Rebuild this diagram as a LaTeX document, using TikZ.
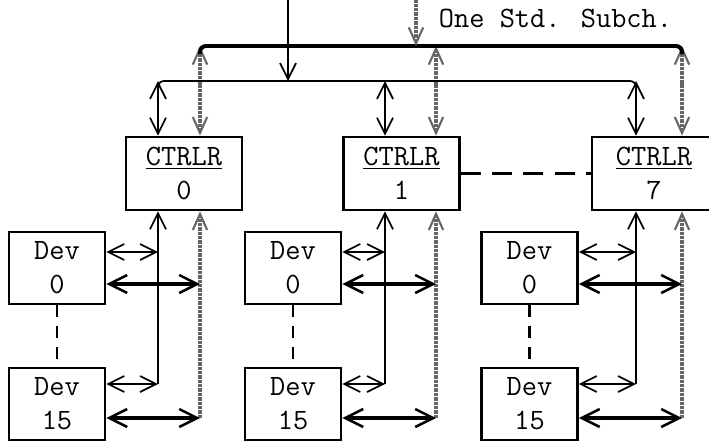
\documentclass[tikz,border=0pt]{standalone}
\usetikzlibrary{arrows.meta}

\tikzset{
  box/.style={draw, line width=2pt, align=center, inner sep=0pt,
    font=\fontsize{21}{24}\selectfont\ttfamily},
  ctrlbox/.style={box, minimum width=29mm, minimum height=18.25mm},
  lastctrl/.style={minimum width=31mm},
  devbox/.style={box, minimum width=24mm, minimum height=18mm},
  thinline/.style={line width=1.2pt, arrows={[length=4mm, width=4mm]}},
  bus/.style={line width=2.8pt},
  subch/.style={line width=3.4pt, draw=black!60, dash pattern=on 2.4pt off 0.7pt,
    arrows={[length=4mm, width=3.6mm, line width=1.5pt]}},
  fatline/.style={line width=3pt, arrows={[length=4.5mm, width=4.5mm, line width=1.8pt]}},
  devdash/.style={line width=2pt, dash pattern=on 3mm off 2.2mm},
  ctldash/.style={line width=2pt, dash pattern=on 5mm off 2.8mm},
  >={Straight Barb}
}

\begin{document}
\begin{tikzpicture}[x=0.25mm, y=-0.25mm]
  \useasboundingbox (0,0) rectangle (709,444);
  \clip (0,0) rectangle (709,444);

  % three controllers, each with devices 0 .. 15
  \foreach \g/\dx/\tx/\kx/\cx/\n in {0/57/158/200/184/0, 1/293/385/436/401.5/1, 2/529.5/636/682/654/7} {
    \ifnum\g=2 \tikzset{ctrlbox/.append style=lastctrl}\fi
    \node[ctrlbox] (ctl\g) at (\cx,173.5) {\underline{CTRLR}\\\n};
    \node[devbox] (dev\g a) at (\dx,268) {Dev\\0};
    \node[devbox] (dev\g b) at (\dx,404) {Dev\\15};

    \coordinate (ib\g) at (\tx,81);
    \coordinate (ob\g) at (\kx,46);
    \coordinate (ta\g) at (\tx,252);
    \coordinate (tb\g) at (\tx,384);
    \coordinate (ka\g) at (\kx,284);
    \coordinate (kb\g) at (\kx,418);

    % bus side
    \draw[thinline, <->] (ib\g) -- (ctl\g.north -| ib\g);
    \draw[subch, <->] (ob\g) -- (ctl\g.north -| ob\g);

    % device side
    \draw[thinline, ->] (tb\g) -- (ctl\g.south -| tb\g);
    \draw[subch, ->] (kb\g) -- (ctl\g.south -| kb\g);
    \draw[thinline, <->] (dev\g a.east |- ta\g) -- (ta\g);
    \draw[thinline, <->] (dev\g b.east |- tb\g) -- (tb\g);
    \draw[fatline, <->] (dev\g a.east |- ka\g) -- (ka\g);
    \draw[fatline, <->] (dev\g b.east |- kb\g) -- (kb\g);
    \draw[devdash] (dev\g a.south) -- (dev\g b.north);
  }

  \draw[ctldash] (ctl1.east) -- (ctl2.west);

  % the two buses
  \draw[line width=1.2pt, rounded corners=1.5mm] (ib0) ++(0,8) |- (ib2) -- ++(0,8);
  \draw[bus, rounded corners=1.5mm] (ob0) ++(0,8) |- (ob2) -- ++(0,8);

  % incoming lines
  \coordinate (inA) at (288,-5);
  \coordinate (inB) at (416,-5);
  \draw[thinline, ->] (inA) -- (inA |- ib0);
  \draw[subch, ->] (inB) -- (inB |- ob0);
  \node[anchor=base west, font=\fontsize{21}{24}\selectfont\ttfamily] (lbl) at (434,27) {One Std. Subch.};
\end{tikzpicture}
\end{document}
